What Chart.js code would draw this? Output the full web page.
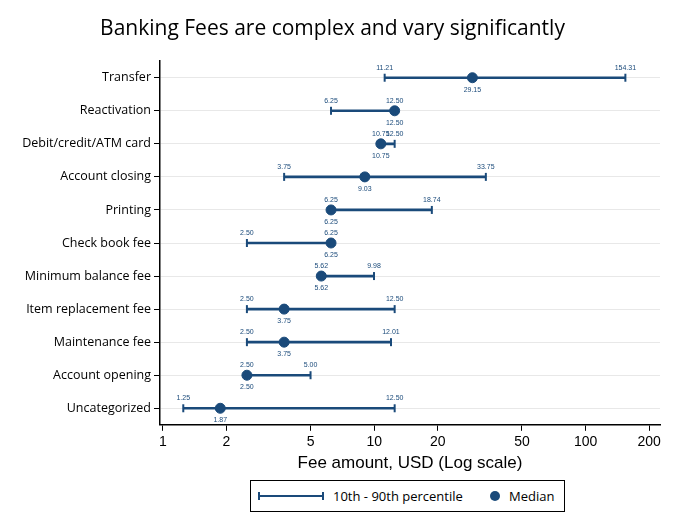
<!DOCTYPE html>
<html><head><meta charset="utf-8">
<script src="https://cdn.jsdelivr.net/npm/chart.js@4"></script>
<style>
body{margin:0;background:#fff;font-family:"Open Sans",sans-serif;}
#wrap{position:relative;width:700px;height:526px;}
#legend{position:absolute;left:250px;top:480px;width:315px;height:32px;border:1px solid #000;box-sizing:border-box;font:13px "Open Sans",sans-serif;color:#000;}
</style></head><body>
<div id="wrap"><canvas id="c" width="700" height="478"></canvas>
<div id="legend">
<svg width="313" height="30" style="position:absolute;left:0;top:0">
<line x1="8" y1="15" x2="72" y2="15" stroke="#1a4a7a" stroke-width="2"/>
<line x1="8" y1="11" x2="8" y2="19" stroke="#1a4a7a" stroke-width="2"/>
<line x1="72" y1="11" x2="72" y2="19" stroke="#1a4a7a" stroke-width="2"/>
<text x="82" y="20" font-size="13" font-family="Open Sans">10th - 90th percentile</text>
<circle cx="244" cy="15" r="5" fill="#1a4a7a"/>
<text x="258" y="20" font-size="13" font-family="Open Sans">Median</text>
</svg></div></div>
<script>
const categories=["Transfer","Reactivation","Debit/credit/ATM card","Account closing","Printing","Check book fee","Minimum balance fee","Item replacement fee","Maintenance fee","Account opening","Uncategorized"];
const p10=[11.21,6.25,10.75,3.75,6.25,2.50,5.62,2.50,2.50,2.50,1.25];
const median=[29.15,12.50,10.75,9.03,6.25,6.25,5.62,3.75,3.75,2.50,1.87];
const p90=[154.31,12.50,12.50,33.75,18.74,6.25,9.98,12.50,12.01,5.00,12.50];
const xTicks=[1,2,5,10,20,50,100,200];
const col='#1a4a7a';
const capPlugin={id:'caps',afterDatasetsDraw(ch){
 const c=ch.ctx,x=ch.scales.x,y=ch.scales.y;
 c.save();c.strokeStyle=col;c.lineWidth=2;c.fillStyle=col;
 c.font='7px "Liberation Sans"';c.textAlign='center';
 categories.forEach((k,i)=>{const py=y.getPixelForValue(i);
  [p10[i],p90[i]].forEach(v=>{const px=x.getPixelForValue(v);c.beginPath();c.moveTo(px,py-4);c.lineTo(px,py+4);c.stroke();
   c.fillText(v.toFixed(2),px,py-8);});
  c.fillText(median[i].toFixed(2),x.getPixelForValue(median[i]),py+14);
 });c.restore();}};
new Chart(document.getElementById('c'),{
 data:{labels:categories,datasets:[
  {type:'bar',data:categories.map((k,i)=>[p10[i],p90[i]]),backgroundColor:col,barThickness:2,order:2},
  {type:'line',data:categories.map((k,i)=>({x:median[i],y:k})),showLine:false,pointRadius:5,pointBackgroundColor:col,pointBorderColor:col,order:1}
 ]},
 options:{indexAxis:'y',responsive:false,animation:false,
  layout:{padding:{left:5,right:40,top:0,bottom:0}},
  plugins:{legend:{display:false},tooltip:{enabled:false},
   title:{display:true,text:'Banking Fees are complex and vary significantly',font:{size:21,family:'Open Sans',weight:'normal'},color:'#000',padding:{top:16,bottom:20}}},
  scales:{
   x:{type:'logarithmic',min:0.97,max:225,afterBuildTicks:s=>{s.ticks=xTicks.map(v=>({value:v}))},
    ticks:{color:'#000',font:{size:14,family:'Liberation Sans'},callback:v=>String(v),autoSkip:false,maxRotation:0},
    grid:{display:true,drawOnChartArea:false,color:'#000',tickLength:6},border:{color:'#000',width:1.5},
    title:{display:true,text:'Fee amount, USD (Log scale)',color:'#000',font:{size:17,family:'Liberation Sans'},padding:{top:0}}},
   y:{type:'category',afterFit:s=>{s.width=155},
    ticks:{color:'#000',font:{size:12.5,family:'Open Sans'}},
    grid:{offset:false,color:'#e8e8e8',tickColor:'#000',tickLength:6},border:{color:'#000',width:1.5}}
  }},
 plugins:[capPlugin]});
</script></body></html>
